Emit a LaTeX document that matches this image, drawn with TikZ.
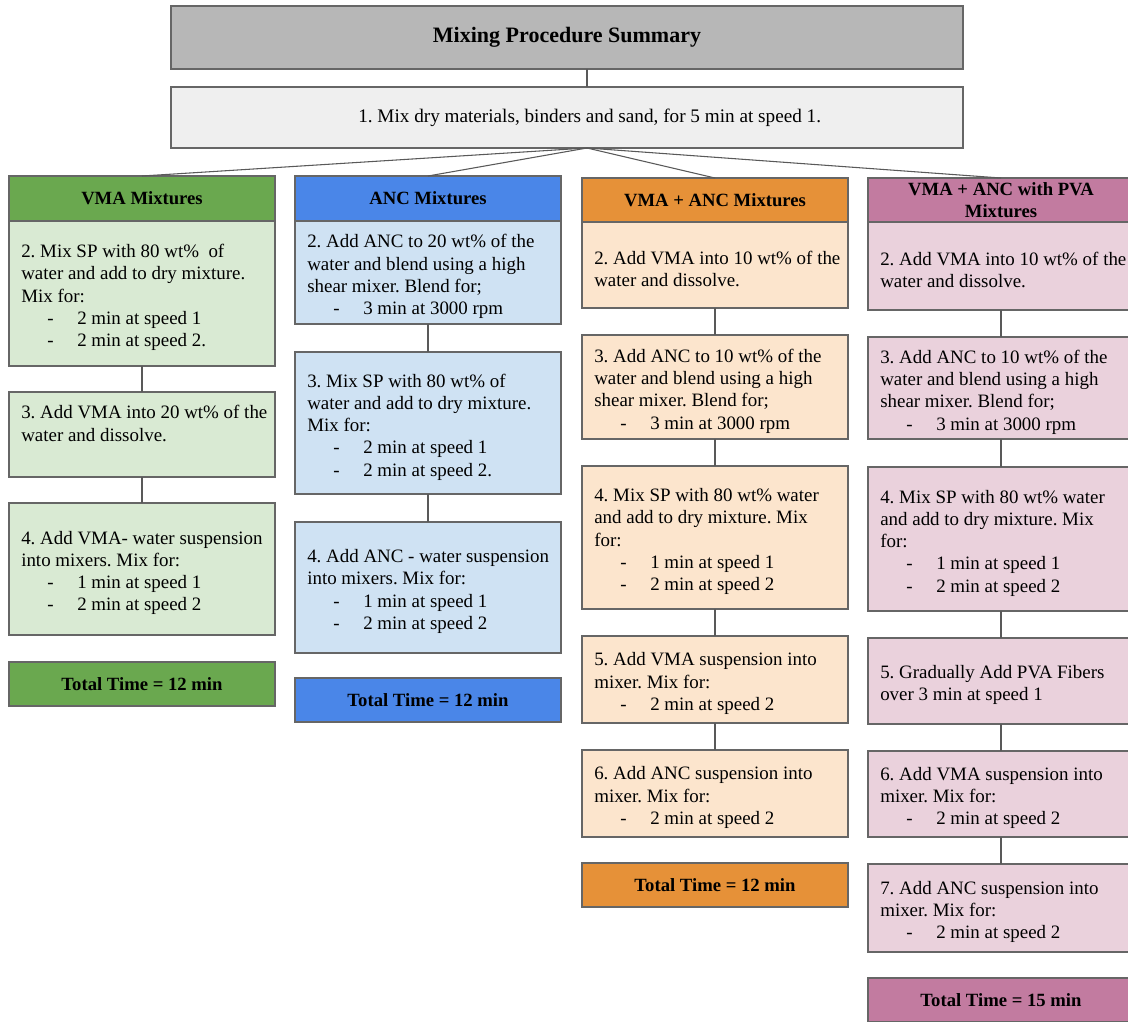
\documentclass[tikz,border=0pt]{standalone}
\usepackage{fontspec}
\setmainfont{Liberation Serif}
\usetikzlibrary{calc}
\definecolor{bordc}{HTML}{666666}
\definecolor{linec}{HTML}{595959}
\definecolor{titlec}{HTML}{B7B7B7}
\definecolor{onec}{HTML}{EFEFEF}
\definecolor{vmah}{HTML}{6AA84F}
\definecolor{vmas}{HTML}{D9EAD3}
\definecolor{anch}{HTML}{4A86E8}
\definecolor{ancs}{HTML}{CFE2F3}
\definecolor{vah}{HTML}{E69138}
\definecolor{vas}{HTML}{FCE5CD}
\definecolor{pvah}{HTML}{C27BA0}
\definecolor{pvas}{HTML}{EAD1DC}
\frenchspacing
\newcommand\itm[1]{\makebox[42pt][l]{\hspace*{19.5pt}-}#1}
\tikzset{
  box/.style={draw=bordc, line width=0.8pt, rectangle, inner sep=0pt, outer sep=0pt,
    minimum width=199.5pt, anchor=north west},
  txt/.style={align=left, inner sep=0pt, anchor=west, font=\fontsize{14.2}{16.7}\selectfont},
  hdr/.style={box, align=center, font=\bfseries\fontsize{14}{17}\selectfont},
  conn/.style={draw=linec, line width=0.8pt}
}
\newcommand\mkstep[6]{%
  \node[box, fill=#5, minimum height={(#4-#3)*0.75pt}] (#1) at (#2,#3) {};
  \node[txt] (#1t) at ($(#1.west)+(12,4)$) {#6};
}
\newcommand\mkhdr[6]{%
  \node[hdr, fill=#5, minimum height={(#4-#3)*0.75pt}] (#1) at (#2,#3) {#6};
}
\begin{document}
\begin{tikzpicture}[x=0.75pt, y=-0.75pt]
\useasboundingbox (0,0) rectangle (1128,1021);
\fill[white] (0,0) rectangle (1128,1021);

% title and step 1
\node[box, fill=titlec, minimum width={792*0.75pt}, minimum height={63*0.75pt},
  font=\bfseries\fontsize{16.5}{19}\selectfont] (title) at (171,6) {Mixing Procedure Summary};
\node[box, fill=onec, minimum width={792*0.75pt}, minimum height={61*0.75pt},
  font=\fontsize{14.4}{16.7}\selectfont] (one) at (171,87) {\hspace*{34pt}1. Mix dry materials, binders and sand, for 5 min at speed 1.};
\coordinate (hub) at (587,148);

% headers
\mkhdr{vh}{9}{176}{221}{vmah}{VMA Mixtures}
\mkhdr{ah}{295}{176}{221}{anch}{ANC Mixtures}
\mkhdr{bh}{582}{178}{222}{vah}{VMA + ANC Mixtures}
\mkhdr{ch}{868}{178}{222}{pvah}{VMA + ANC with PVA\\[-1pt]Mixtures}

% VMA column
\mkstep{v2}{9}{221}{366}{vmas}{2. Mix SP with 80 wt\%\ \ of\\water and add to dry mixture.\\Mix for:\\\itm{2 min at speed 1}\\\itm{2 min at speed 2.}}
\mkstep{v3}{9}{392}{477}{vmas}{3. Add VMA into 20 wt\% of the\\water and dissolve.\\[6pt]}
\mkstep{v4}{9}{503}{635}{vmas}{4. Add VMA- water suspension\\into mixers. Mix for:\\\itm{1 min at speed 1}\\\itm{2 min at speed 2}}
\mkhdr{vt}{9}{662}{706}{vmah}{Total Time = 12 min}

% ANC column
\mkstep{a2}{295}{221}{324}{ancs}{2. Add ANC to 20 wt\% of the\\water and blend using a high\\shear mixer. Blend for;\\\itm{3 min at 3000 rpm}}
\mkstep{a3}{295}{352}{494}{ancs}{3. Mix SP with 80 wt\% of\\water and add to dry mixture.\\Mix for:\\\itm{2 min at speed 1}\\\itm{2 min at speed 2.}}
\mkstep{a4}{295}{522}{653}{ancs}{4. Add ANC - water suspension\\into mixers. Mix for:\\\itm{1 min at speed 1}\\\itm{2 min at speed 2}}
\mkhdr{at}{295}{678}{722}{anch}{Total Time = 12 min}

% VMA + ANC column
\mkstep{b2}{582}{222}{308}{vas}{2. Add VMA into 10 wt\% of the\\water and dissolve.}
\mkstep{b3}{582}{335}{439}{vas}{3. Add ANC to 10 wt\% of the\\water and blend using a high\\shear mixer. Blend for;\\\itm{3 min at 3000 rpm}}
\mkstep{b4}{582}{466}{609}{vas}{4. Mix SP with 80 wt\% water\\and add to dry mixture. Mix\\for:\\\itm{1 min at speed 1}\\\itm{2 min at speed 2}}
\mkstep{b5}{582}{636}{723}{vas}{5. Add VMA suspension into\\mixer. Mix for:\\\itm{2 min at speed 2}}
\mkstep{b6}{582}{750}{837}{vas}{6. Add ANC suspension into\\mixer. Mix for:\\\itm{2 min at speed 2}}
\mkhdr{bt}{582}{863}{907}{vah}{Total Time = 12 min}

% VMA + ANC with PVA column
\mkstep{c2}{868}{222}{310}{pvas}{2. Add VMA into 10 wt\% of the\\water and dissolve.}
\mkstep{c3}{868}{337}{439}{pvas}{3. Add ANC to 10 wt\% of the\\water and blend using a high\\shear mixer. Blend for;\\\itm{3 min at 3000 rpm}}
\mkstep{c4}{868}{467}{611}{pvas}{4. Mix SP with 80 wt\% water\\and add to dry mixture. Mix\\for:\\\itm{1 min at speed 1}\\\itm{2 min at speed 2}}
\mkstep{c5}{868}{638}{724}{pvas}{5. Gradually Add PVA Fibers\\over 3 min at speed 1}
\mkstep{c6}{868}{751}{837}{pvas}{6. Add VMA suspension into\\mixer. Mix for:\\\itm{2 min at speed 2}}
\mkstep{c7}{868}{864}{952}{pvas}{7. Add ANC suspension into\\mixer. Mix for:\\\itm{2 min at speed 2}}
\mkhdr{ct}{868}{978}{1022}{pvah}{Total Time = 15 min}

% connectors
\draw[conn] (title.south -| hub) -- (one.north -| hub);
\draw[conn] (hub) -- (vh.north);
\draw[conn] (hub) -- (ah.north);
\draw[conn] (hub) -- (bh.north);
\draw[conn] (hub) -- (ch.north);
\draw[conn] (v2.south) -- (v3.north);
\draw[conn] (v3.south) -- (v4.north);
\draw[conn] (a2.south) -- (a3.north);
\draw[conn] (a3.south) -- (a4.north);
\draw[conn] (b2.south) -- (b3.north);
\draw[conn] (b3.south) -- (b4.north);
\draw[conn] (b4.south) -- (b5.north);
\draw[conn] (b5.south) -- (b6.north);
\draw[conn] (c2.south) -- (c3.north);
\draw[conn] (c3.south) -- (c4.north);
\draw[conn] (c4.south) -- (c5.north);
\draw[conn] (c5.south) -- (c6.north);
\draw[conn] (c6.south) -- (c7.north);
\end{tikzpicture}
\end{document}
